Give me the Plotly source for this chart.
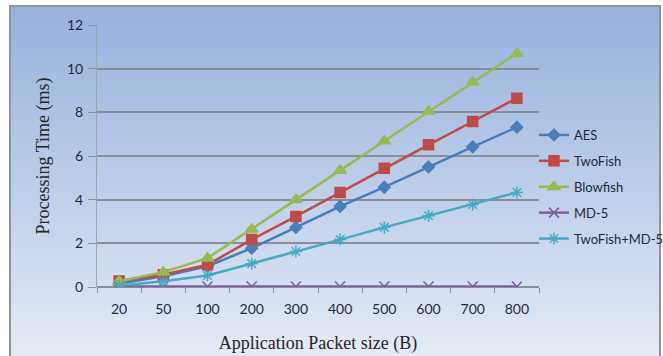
import plotly.graph_objects as go
import urllib.parse

# Packet sizes (bytes) and measured processing times (ms)
packet_sizes = ["20", "50", "100", "200", "300", "400", "500", "600", "700", "800"]
aes = [0.15, 0.49, 0.95, 1.78, 2.73, 3.69, 4.57, 5.50, 6.42, 7.32]
twofish = [0.28, 0.56, 1.02, 2.17, 3.23, 4.33, 5.44, 6.51, 7.58, 8.65]
blowfish = [0.26, 0.68, 1.32, 2.65, 4.00, 5.34, 6.69, 8.04, 9.38, 10.70]
md5 = [0.02, 0.02, 0.02, 0.02, 0.02, 0.02, 0.02, 0.02, 0.02, 0.02]
twofish_md5 = [0.06, 0.26, 0.53, 1.07, 1.63, 2.17, 2.73, 3.26, 3.78, 4.33]

series = [
    ("AES", aes, "#4a7ebb", "diamond", 9),
    ("TwoFish", twofish, "#be4b48", "square", 10),
    ("Blowfish", blowfish, "#98b954", "triangle-up", 11),
    ("MD-5", md5, "#7d60a0", "x-thin-open", 10),
    ("TwoFish+MD-5", twofish_md5, "#46aac5", "asterisk-open", 10),
]

W, H = 663, 356
ML, MR, MT, MB = 97, 124, 25, 69
pw, ph = W - ML - MR, H - MT - MB

fig = go.Figure()
for name, vals, color, sym, size in series:
    fig.add_trace(go.Scatter(
        x=packet_sizes, y=vals, name=name, mode="lines+markers",
        legendgroup=name,
        line=dict(color=color, width=2.5),
        marker=dict(symbol=sym, size=size, color=color,
                    line=dict(color=color, width=1.5)),
    ))

# Gradient chart background drawn as an SVG image behind everything
grad_svg = (
    "<svg xmlns='http://www.w3.org/2000/svg' width='100' height='100' preserveAspectRatio='none'>"
    "<defs><linearGradient id='g' x1='0' y1='0' x2='0' y2='1'>"
    "<stop offset='0' stop-color='#98b1de'/>"
    "<stop offset='0.5' stop-color='#bccde9'/>"
    "<stop offset='1' stop-color='#e6ecf6'/>"
    "</linearGradient></defs>"
    "<rect width='100' height='100' fill='url(#g)'/></svg>"
)
grad_uri = "data:image/svg+xml;charset=utf-8," + urllib.parse.quote(grad_svg)


def px_to_paper_x(px):
    return (px - ML) / pw


def px_to_paper_y(py):
    return (H - MB - py) / ph


x0, x1 = px_to_paper_x(10), px_to_paper_x(660)
y0, y1 = px_to_paper_y(360), px_to_paper_y(6)

fig.add_layout_image(dict(
    source=grad_uri, xref="paper", yref="paper",
    x=x0, y=y1, sizex=x1 - x0, sizey=y1 - y0,
    xanchor="left", yanchor="top", sizing="stretch", layer="below",
))

# Chart frame
fig.add_shape(type="rect", xref="paper", yref="paper",
              x0=x0, x1=x1, y0=y0, y1=y1,
              line=dict(color="#8d929c", width=2), layer="below")

tick_font = dict(family="Lato, 'Open Sans', sans-serif", size=14, color="#1f2a3c")
title_font = dict(family="'Liberation Serif', 'DejaVu Serif', serif", size=18, color="#262626")

fig.update_layout(
    width=W, height=H,
    margin=dict(l=ML, r=MR, t=MT, b=MB, autoexpand=False),
    paper_bgcolor="white",
    plot_bgcolor="rgba(0,0,0,0)",
    showlegend=True,
    legend=dict(
        x=px_to_paper_x(534), xanchor="left", y=px_to_paper_y(120), yanchor="top",
        bgcolor="rgba(0,0,0,0)",
        font=dict(family="Lato, 'Open Sans', sans-serif", size=13, color="#1f2a3c"),
        tracegroupgap=6, itemwidth=30,
    ),
    xaxis=dict(
        type="category", range=[-0.5, 9.5],
        showgrid=False, showline=False, zeroline=False,
        ticks="outside", tickson="boundaries", ticklen=5, tickcolor="#8c8c96",
        ticklabelstandoff=12,
        tickfont=tick_font,
        title=dict(text="Application Packet size (B)", font=title_font, standoff=20),
    ),
    yaxis=dict(
        range=[0, 12], dtick=2,
        showgrid=True, gridcolor="#8a8e98", gridwidth=1.6,
        zeroline=True, zerolinecolor="#8a8e98", zerolinewidth=1.6,
        showline=True, linecolor="#a0a4ac", linewidth=1,
        ticks="outside", ticklen=8, tickcolor="#8f939c",
        ticklabelstandoff=2,
        tickfont=tick_font,
        title=dict(text="Processing Time (ms)", font=title_font, standoff=12),
    ),
)

fig.write_html("out.html")
